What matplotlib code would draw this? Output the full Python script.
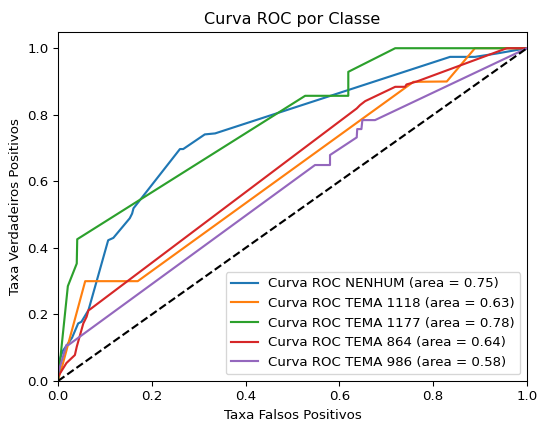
import matplotlib
matplotlib.use("Agg")
import matplotlib.pyplot as plt

# classes and their AUC values
classes = ["NENHUM", "TEMA 1118", "TEMA 1177", "TEMA 864", "TEMA 986"]
areas = [0.75, 0.63, 0.78, 0.64, 0.58]

# ROC points
fpr_nenhum = [0.0, 0.0, 0.01, 0.03, 0.043, 0.05, 0.065, 0.107, 0.118, 0.153, 0.158, 0.161, 0.175,
              0.26, 0.267, 0.313, 0.335, 0.836, 0.889, 0.935, 1.0]
tpr_nenhum = [0.0, 0.05, 0.09, 0.13, 0.173, 0.178, 0.213, 0.423, 0.43, 0.489, 0.503, 0.519, 0.544,
              0.697, 0.697, 0.741, 0.744, 0.974, 0.974, 0.984, 1.0]

fpr_1118 = [0.0, 0.004, 0.01, 0.058, 0.17, 0.758, 0.829, 0.889, 1.0]
tpr_1118 = [0.0, 0.023, 0.05, 0.30, 0.30, 0.899, 0.90, 1.0, 1.0]

fpr_1177 = [0.0, 0.004, 0.021, 0.04, 0.041, 0.527, 0.619, 0.619, 0.626, 0.719, 1.0]
tpr_1177 = [0.0, 0.054, 0.285, 0.353, 0.426, 0.857, 0.857, 0.929, 0.934, 1.0, 1.0]

fpr_864 = [0.0, 0.0, 0.018, 0.036, 0.04, 0.054, 0.061, 0.065, 0.068, 0.637, 0.644, 0.655,
           0.719, 0.74, 0.743, 0.765, 0.957, 1.0]
tpr_864 = [0.0, 0.013, 0.054, 0.078, 0.103, 0.173, 0.193, 0.213, 0.215, 0.819, 0.829, 0.841,
           0.884, 0.884, 0.891, 0.90, 1.0, 1.0]

fpr_986 = [0.0, 0.0, 0.018, 0.022, 0.548, 0.58, 0.58, 0.637, 0.638, 0.647, 0.649, 0.676, 1.0]
tpr_986 = [0.0, 0.023, 0.108, 0.108, 0.649, 0.649, 0.679, 0.732, 0.757, 0.757, 0.784, 0.784, 1.0]

fprs = [fpr_nenhum, fpr_1118, fpr_1177, fpr_864, fpr_986]
tprs = [tpr_nenhum, tpr_1118, tpr_1177, tpr_864, tpr_986]

fig = plt.figure(figsize=(539 / 96, 421 / 96), dpi=96)
for c, a, f, t in zip(classes, areas, fprs, tprs):
    plt.plot(f, t, lw=1.6, label="Curva ROC {} (area = {:.2f})".format(c, a))
plt.plot([0, 1], [0, 1], "k--", lw=1.6)
plt.xlim([0.0, 1.0])
plt.ylim([0.0, 1.05])
plt.xlabel("Taxa Falsos Positivos")
plt.ylabel("Taxa Verdadeiros Positivos")
plt.title("Curva ROC por Classe")
plt.legend(loc="lower right")
plt.subplots_adjust(left=0.1076, right=0.9777, top=0.925, bottom=0.095)
plt.savefig("out.png")
